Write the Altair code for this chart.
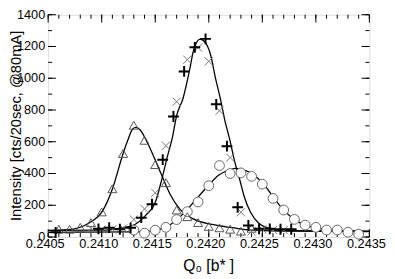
import altair as alt
import pandas as pd

# ---------------- data ----------------
tri_q = [0.2406, 0.2407, 0.2408, 0.2409, 0.2410, 0.2411, 0.2412, 0.2413, 0.2414, 0.2415,
         0.2416, 0.2417, 0.2418, 0.2419, 0.2420, 0.2421, 0.2422, 0.2423, 0.2424]
tri_I = [49, 49, 61, 91, 158, 304, 526, 704, 609, 456, 342, 170, 128, 91, 67, 58, 49, 37, 55]

circ_q = [0.2413, 0.2414, 0.2415, 0.2416, 0.2417, 0.2418, 0.2419, 0.2420, 0.2421, 0.2422, 0.2423,
          0.2424, 0.2425, 0.2426, 0.2427, 0.2428, 0.2429, 0.2430, 0.2431, 0.2432, 0.2433, 0.2434]
circ_I = [44, 24, 43, 61, 110, 160, 221, 323, 450, 400, 404, 382, 333, 243, 170, 111, 75, 61, 44, 44, 30, 18]

plus_q = [0.24057, 0.24097, 0.24107, 0.24117, 0.24127, 0.24137, 0.24147, 0.24157, 0.24167, 0.24177,
          0.24187, 0.24197, 0.24207, 0.24217, 0.24227, 0.24237, 0.24247, 0.24257, 0.24267, 0.24277]
plus_I = [30, 52, 59, 49, 58, 122, 207, 487, 759, 1043, 1195, 1248, 836, 572, 187, 73, 52, 52, 49, 49]

cross_q = [0.2409, 0.2410, 0.2411, 0.2412, 0.2413, 0.2414, 0.2415, 0.2416, 0.2417, 0.2418,
           0.2419, 0.2420, 0.2421, 0.2422, 0.2423, 0.2424, 0.2425, 0.2426, 0.2427]
cross_I = [55, 49, 49, 55, 110, 177, 278, 575, 852, 1117, 1193, 1106, 795, 500, 156, 35, 49, 44, 44]

# fitted curves
fitA_q = [0.2405, 0.24069, 0.24089, 0.24101, 0.24110, 0.24120, 0.24124, 0.24129, 0.24132, 0.24136,
          0.24142, 0.24149, 0.24156, 0.24164, 0.24173, 0.24185, 0.24203, 0.24222, 0.24240, 0.2428, 0.2435]
fitA_I = [40, 46, 91, 166, 302, 526, 603, 680, 690, 674, 603, 501, 390, 268, 176, 116, 79, 59, 44, 37, 34]

fitB_q = [0.2405, 0.2410, 0.24116, 0.24131, 0.24141, 0.24150, 0.24156, 0.24161, 0.24166, 0.24170,
          0.24176, 0.24182, 0.24186, 0.24192, 0.24197, 0.24202, 0.24206, 0.24211, 0.24215, 0.24220,
          0.24224, 0.24229, 0.24233, 0.24239, 0.24247, 0.24256, 0.24268, 0.2435]
fitB_I = [42, 43, 55, 79, 136, 217, 359, 497, 626, 764, 874, 1049, 1181, 1246, 1222, 1140, 1009, 866,
          735, 603, 481, 359, 257, 156, 85, 55, 40, 37]

fitC_q = [0.2405, 0.2413, 0.241424, 0.241607, 0.241790, 0.241881, 0.241988, 0.242094, 0.242201,
          0.242252, 0.242302, 0.242400, 0.242506, 0.242597, 0.242704, 0.242811, 0.242917, 0.243070,
          0.243253, 0.2435]
fitC_I = [30, 33, 35, 65, 166, 237, 318, 390, 424, 432, 428, 400, 339, 257, 166, 105, 71, 50, 38, 35]

x_major = [0.2405, 0.2410, 0.2415, 0.2420, 0.2425, 0.2430, 0.2435]
x_labels = ["0.2405", "0.2410", "0.2415", "0.2420", "0.2425", "0.2430", "0.2435"]
x_minor = [round(0.2405 + i * 0.0001, 4) for i in range(31)]
y_major = [0, 200, 400, 600, 800, 1000, 1200, 1400]
y_labels = ["0", "200", "400", "600", "800", "1000", "1200", "1400"]
y_minor = [0, 100, 200, 300, 400, 500, 600, 700, 800, 900, 1000, 1100, 1200, 1300, 1400]
X_LO, X_HI = 0.2405, 0.2435
Y_LO, Y_HI = 0, 1400
x_title = "Q₀ [b* ]"
y_title = "Intensity [cts/20sec, @80mA]"

# ---------------- chart ----------------
W, H = 328, 227
FONT = "Liberation Sans"
xs = alt.Scale(domain=[X_LO, X_HI], nice=False, zero=False)
ys = alt.Scale(domain=[Y_LO, Y_HI], nice=False, zero=False)


def frame(q, I):
    return pd.DataFrame({"q": q, "I": I})


def enc(ch, **extra):
    return ch.encode(
        x=alt.X("q:Q", scale=xs, axis=None),
        y=alt.Y("I:Q", scale=ys, axis=None),
        **extra,
    )


lines = [
    enc(alt.Chart(frame(q, I)).mark_line(color="black", strokeWidth=1.3, interpolate="monotone"))
    for q, I in [(fitA_q, fitA_I), (fitB_q, fitB_I), (fitC_q, fitC_I)]
]

circles = enc(alt.Chart(frame(circ_q, circ_I)).mark_point(
    shape="circle", size=100, filled=False, fill="white", fillOpacity=1,
    stroke="#666666", strokeWidth=1, opacity=1))
tris = enc(alt.Chart(frame(tri_q, tri_I)).mark_point(
    shape="triangle-up", size=85, filled=False, stroke="#555555", strokeWidth=1, opacity=1))
crosses = enc(alt.Chart(frame(cross_q, cross_I)).mark_point(
    shape="M-1,-1L1,1M-1,1L1,-1", size=70, filled=False, stroke="#777777", strokeWidth=1, opacity=1))
pluses = enc(alt.Chart(frame(plus_q, plus_I)).mark_point(
    shape="M-1,0L1,0M0,-1L0,1", size=121, filled=False, stroke="black", strokeWidth=2, opacity=1))

# inward ticks on all four sides (major and minor)
xt_major = pd.DataFrame({"v": x_major})
xt_minor = pd.DataFrame({"v": x_minor})
yt_major = pd.DataFrame({"v": y_major})
yt_minor = pd.DataFrame({"v": y_minor})


def xticks(df, y0, y1):
    return alt.Chart(df).mark_rule(color="black", strokeWidth=1).encode(
        x=alt.X("v:Q", scale=xs, axis=None), y=alt.value(y0), y2=alt.value(y1))


def yticks(df, x0, x1):
    return alt.Chart(df).mark_rule(color="black", strokeWidth=1).encode(
        y=alt.Y("v:Q", scale=ys, axis=None), x=alt.value(x0), x2=alt.value(x1))


tick_layers = [
    xticks(xt_major, 0, 8), xticks(xt_minor, 0, 4),
    xticks(xt_major, H, H - 8), xticks(xt_minor, H, H - 4),
    yticks(yt_major, 0, 8), yticks(yt_minor, 0, 4),
    yticks(yt_major, W, W - 8), yticks(yt_minor, W, W - 4),
]

# tick labels as text, placed through the scales
xlab_df = pd.DataFrame({"q": x_major, "I": [Y_LO] * len(x_major), "lab": x_labels})
ylab_df = pd.DataFrame({"q": [X_LO] * len(y_major), "I": y_major, "lab": y_labels})

xlabels = enc(alt.Chart(xlab_df).mark_text(
    font=FONT, fontSize=13, color="black", align="center", baseline="top", dx=-3, dy=1),
    text="lab:N")
ylabels = enc(alt.Chart(ylab_df).mark_text(
    font=FONT, fontSize=13, color="black", align="right", baseline="middle", dx=-3),
    text="lab:N")

title_df = pd.DataFrame({"t": [x_title], "u": [y_title]})
xtitle = alt.Chart(title_df).mark_text(
    font=FONT, fontSize=16, color="black", align="center", baseline="alphabetic").encode(
    x=alt.value(W / 2), y=alt.value(H + 35), text="t:N")
ytitle = alt.Chart(title_df).mark_text(
    font=FONT, fontSize=15, color="black", align="center", baseline="alphabetic", angle=270).encode(
    x=alt.value(-28), y=alt.value(H / 2), text="u:N")

chart = alt.layer(
    *tick_layers, *lines, circles, tris, crosses, pluses, xlabels, ylabels, xtitle, ytitle
).properties(
    width=W, height=H,
    autosize=alt.AutoSizeParams(type="none"),
    padding={"left": 41, "top": 4, "right": 18, "bottom": 40},
).configure_view(stroke="black", strokeWidth=1).configure(background="white")

chart.save("out.html", embed_options={"renderer": "svg", "actions": False})
